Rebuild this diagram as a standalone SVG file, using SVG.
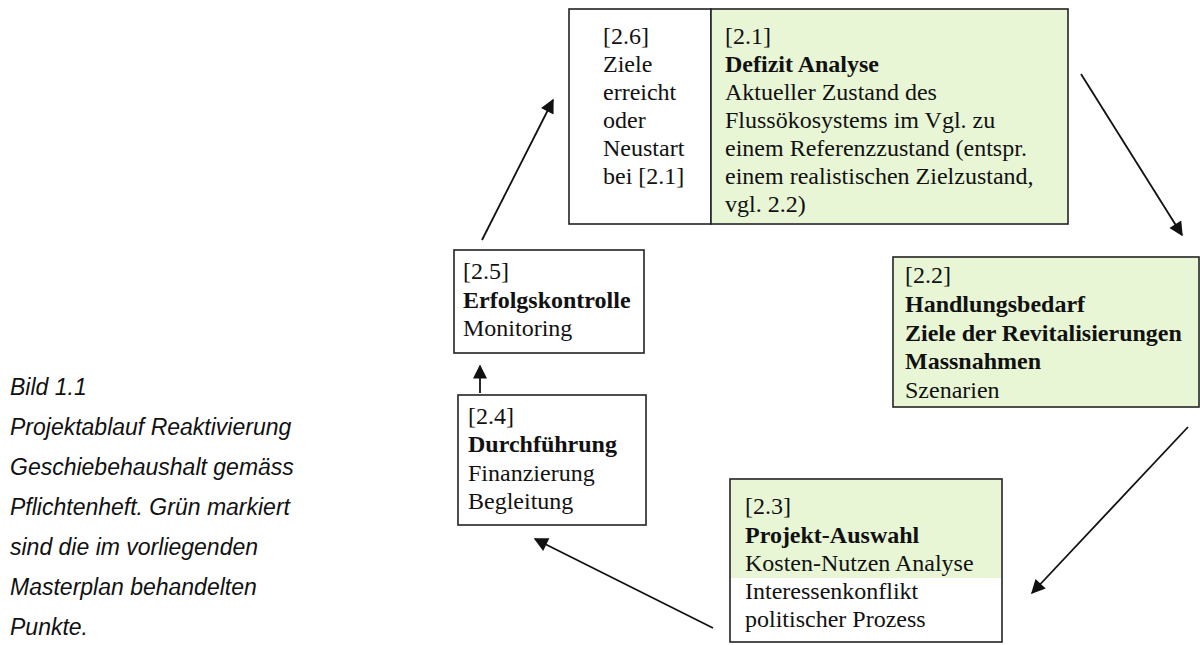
<svg xmlns="http://www.w3.org/2000/svg" width="1200" height="645" viewBox="0 0 1200 645">
<defs>
<marker id="ah2" viewBox="0 0 10 10" refX="9" refY="5" markerWidth="18" markerHeight="14" markerUnits="userSpaceOnUse" orient="auto">
<path d="M0,0 L10,5 L0,10 z" fill="#111"/>
</marker>
</defs>
<style>
.box{fill:#ffffff;stroke:#222;stroke-width:1.6}
.green{fill:#e8f6d6}
.t{font-family:"Liberation Serif","Times New Roman",serif;font-size:24px;fill:#111}
.b{font-weight:bold}
.cap{font-family:"Liberation Sans",Arial,sans-serif;font-size:23px;font-style:italic;fill:#111}
.conn line{stroke:#111;stroke-width:1.8;marker-end:url(#ah2)}
</style>
<rect width="1200" height="645" fill="#ffffff"/>

<g id="caption">
<text class="cap" x="10" y="395">Bild 1.1</text>
<text class="cap" x="10" y="435">Projektablauf Reaktivierung</text>
<text class="cap" x="10" y="475">Geschiebehaushalt gemäss</text>
<text class="cap" x="10" y="515">Pflichtenheft. Grün markiert</text>
<text class="cap" x="10" y="555">sind die im vorliegenden</text>
<text class="cap" x="10" y="595">Masterplan behandelten</text>
<text class="cap" x="10" y="635">Punkte.</text>
</g>

<g id="node-2-6">
<rect class="box" x="569" y="9" width="142" height="215"/>
<text class="t" x="603" y="44">[2.6]</text>
<text class="t" x="603" y="72">Ziele</text>
<text class="t" x="603" y="100">erreicht</text>
<text class="t" x="603" y="128">oder</text>
<text class="t" x="603" y="156">Neustart</text>
<text class="t" x="603" y="184">bei [2.1]</text>
</g>

<g id="node-2-1">
<rect class="box" x="711" y="9" width="357" height="215"/>
<rect class="green" x="712" y="10" width="355" height="213"/>
<text class="t" x="725" y="44">[2.1]</text>
<text class="t b" x="725" y="72">Defizit Analyse</text>
<text class="t" x="725" y="100">Aktueller Zustand des</text>
<text class="t" x="725" y="128">Flussökosystems im Vgl. zu</text>
<text class="t" x="725" y="156">einem Referenzzustand (entspr.</text>
<text class="t" x="725" y="184">einem realistischen Zielzustand,</text>
<text class="t" x="725" y="212">vgl. 2.2)</text>
</g>

<g id="node-2-2">
<rect class="box" x="893" y="257" width="306" height="150"/>
<rect class="green" x="894" y="258" width="304" height="148"/>
<text class="t" x="905" y="283">[2.2]</text>
<text class="t b" x="905" y="312">Handlungsbedarf</text>
<text class="t b" x="905" y="341">Ziele der Revitalisierungen</text>
<text class="t b" x="905" y="369">Massnahmen</text>
<text class="t" x="905" y="398">Szenarien</text>
</g>

<g id="node-2-3">
<rect class="box" x="730" y="479" width="272" height="163"/>
<rect class="green" x="731" y="480" width="270" height="98"/>
<text class="t" x="745" y="514">[2.3]</text>
<text class="t b" x="745" y="543">Projekt-Auswahl</text>
<text class="t" x="745" y="571">Kosten-Nutzen Analyse</text>
<text class="t" x="745" y="599">Interessenkonflikt</text>
<text class="t" x="745" y="627">politischer Prozess</text>
</g>

<g id="node-2-4">
<rect class="box" x="458" y="395" width="188" height="130"/>
<text class="t" x="468" y="424">[2.4]</text>
<text class="t b" x="468" y="452">Durchführung</text>
<text class="t" x="468" y="481">Finanzierung</text>
<text class="t" x="468" y="509">Begleitung</text>
</g>

<g id="node-2-5">
<rect class="box" x="454" y="250" width="190" height="103"/>
<text class="t" x="463" y="279">[2.5]</text>
<text class="t b" x="463" y="308">Erfolgskontrolle</text>
<text class="t" x="463" y="336">Monitoring</text>
</g>

<g id="connectors" class="conn">
<line x1="1081" y1="74" x2="1182" y2="235"/>
<line x1="1188" y1="427" x2="1032" y2="593"/>
<line x1="713" y1="628" x2="535" y2="539"/>
<line x1="480" y1="393" x2="480" y2="366"/>
<line x1="482" y1="240" x2="553" y2="100"/>
</g>
</svg>
